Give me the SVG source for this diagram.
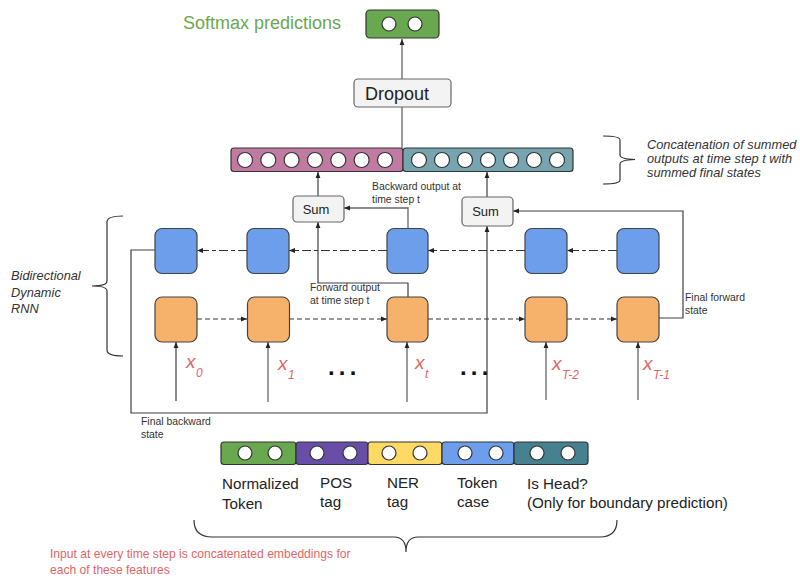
<svg xmlns="http://www.w3.org/2000/svg" width="800" height="580" viewBox="0 0 800 580">
<defs>
<style>
text{font-family:"Liberation Sans",Arial,sans-serif;}
.ln{fill:none;stroke:#404040;stroke-width:1.2;}
.gl{fill:none;stroke:#666;stroke-width:1.3;}
.bd{fill:none;stroke:#333;stroke-width:1.2;stroke-dasharray:9,3,4,3;}
.od{fill:none;stroke:#333;stroke-width:1.2;stroke-dasharray:5,3;}
.blue{fill:#6d9eeb;stroke:#434343;stroke-width:1.2;}
.orange{fill:#f6b26b;stroke:#434343;stroke-width:1.2;}
.box{fill:#f3f3f3;stroke:#666;stroke-width:1.2;}
.c{fill:#fff;stroke:#333;stroke-width:1.2;}
.seg{stroke:#333;stroke-width:1.2;}
.sm{font-size:10.4px;fill:#333;}
.it{font-size:12.8px;fill:#333;font-style:italic;}
.ft{font-size:15.2px;fill:#222;}
.xl{font-size:19px;fill:#e06666;font-style:italic;}
.xs{font-size:12px;fill:#e06666;font-style:italic;}
.br{fill:none;stroke:#333;stroke-width:1.2;}
</style>
<marker id="ah" viewBox="0 0 10 10" refX="10" refY="5" markerWidth="6" markerHeight="6" orient="auto-start-reverse" markerUnits="userSpaceOnUse">
<path d="M0,1 L10,5 L0,9 z" fill="#222"/>
</marker>
</defs>

<!-- title -->
<text x="183" y="29" font-size="18" fill="#6aa84f">Softmax predictions</text>

<g id="connectors">
<line class="gl" x1="402" y1="79" x2="402" y2="39" marker-end="url(#ah)"/>
<line class="gl" x1="402" y1="148" x2="402" y2="107"/>
<line class="ln" x1="318" y1="196" x2="318" y2="172" marker-end="url(#ah)"/>
<line class="ln" x1="487" y1="197" x2="487" y2="172" marker-end="url(#ah)"/>
<!-- backward output at t -->
<polyline class="gl" points="408,228 408,208 344,208" marker-end="url(#ah)"/>
<!-- forward output at t -->
<polyline class="ln" points="408,297 408,283 318,283 318,222" marker-end="url(#ah)"/>
<!-- final forward state -->
<polyline class="ln" points="659,318 683,318 683,211 513,211" marker-end="url(#ah)"/>
<!-- final backward state -->
<polyline class="ln" points="155,250 131,250 131,413 487,413 487,226" marker-end="url(#ah)"/>
<!-- backward chain -->
<line class="bd" x1="247" y1="250.5" x2="197" y2="250.5" marker-end="url(#ah)"/>
<line class="bd" x1="387" y1="250.5" x2="289" y2="250.5" marker-end="url(#ah)"/>
<line class="bd" x1="525" y1="250.5" x2="428" y2="250.5" marker-end="url(#ah)"/>
<line class="bd" x1="617" y1="250.5" x2="567" y2="250.5" marker-end="url(#ah)"/>
<!-- forward chain -->
<line class="od" x1="197" y1="319" x2="247" y2="319" marker-end="url(#ah)"/>
<line class="od" x1="289" y1="319" x2="387" y2="319" marker-end="url(#ah)"/>
<line class="od" x1="428" y1="319" x2="525" y2="319" marker-end="url(#ah)"/>
<line class="od" x1="567" y1="319" x2="617" y2="319" marker-end="url(#ah)"/>
<!-- inputs -->
<line class="ln" x1="176" y1="401" x2="176" y2="342" marker-end="url(#ah)"/>
<line class="gl" x1="268" y1="402" x2="268" y2="342" marker-end="url(#ah)"/>
<line class="gl" x1="407" y1="402" x2="407" y2="342" marker-end="url(#ah)"/>
<line class="gl" x1="546" y1="400" x2="546" y2="342" marker-end="url(#ah)"/>
<line class="gl" x1="638" y1="400" x2="638" y2="342" marker-end="url(#ah)"/>
</g>

<g id="softmax">
<rect x="366" y="10" width="73" height="28" rx="4" fill="#6aa84f" stroke="#333" stroke-width="1.2"/>
<circle class="c" cx="389" cy="24" r="7"/>
<circle class="c" cx="415" cy="24" r="7"/>
</g>

<g id="dropout">
<rect class="box" x="354" y="79" width="97" height="28" rx="4"/>
<text x="397" y="100" font-size="18" fill="#222" text-anchor="middle">Dropout</text>
</g>

<g id="concat">
<rect x="231" y="148" width="172" height="23.5" rx="3" fill="#c27ba0" stroke="#333" stroke-width="1.2"/>
<rect x="403" y="148" width="170" height="23.5" rx="3" fill="#76a5af" stroke="#333" stroke-width="1.2"/>
<circle class="c" cx="245" cy="160" r="7.5"/>
<circle class="c" cx="268.3" cy="160" r="7.5"/>
<circle class="c" cx="291.6" cy="160" r="7.5"/>
<circle class="c" cx="315" cy="160" r="7.5"/>
<circle class="c" cx="338.3" cy="160" r="7.5"/>
<circle class="c" cx="361.6" cy="160" r="7.5"/>
<circle class="c" cx="385" cy="160" r="7.5"/>
<circle class="c" cx="419" cy="160" r="7.5"/>
<circle class="c" cx="442" cy="160" r="7.5"/>
<circle class="c" cx="465" cy="160" r="7.5"/>
<circle class="c" cx="488" cy="160" r="7.5"/>
<circle class="c" cx="511" cy="160" r="7.5"/>
<circle class="c" cx="534" cy="160" r="7.5"/>
<circle class="c" cx="557" cy="160" r="7.5"/>
</g>

<g id="concat-note">
<path class="br" d="M603,136 Q620,136 620,140 L620,155 Q620,159 635,159.5 Q620,160 620,164 L620,180 Q620,184 603,184"/>
<text class="it" x="647" y="149">Concatenation of summed</text>
<text class="it" x="647" y="163">outputs at time step t with</text>
<text class="it" x="647" y="177">summed final states</text>
</g>

<g id="sum1">
<rect class="box" x="293" y="196" width="51" height="26" rx="4"/>
<text x="316" y="213.5" font-size="13" fill="#222" text-anchor="middle">Sum</text>
</g>
<g id="sum2">
<rect class="box" x="462" y="197" width="51" height="29" rx="4"/>
<text x="485.5" y="216" font-size="13" fill="#222" text-anchor="middle">Sum</text>
</g>

<g id="labels-small">
<text class="sm" x="372" y="190">Backward output at</text>
<text class="sm" x="372" y="203">time step t</text>
<text class="sm" x="310" y="291">Forward output</text>
<text class="sm" x="310" y="304">at time step t</text>
<text class="sm" x="685" y="301">Final forward</text>
<text class="sm" x="685" y="314">state</text>
<text class="sm" x="141" y="425">Final backward</text>
<text class="sm" x="141" y="438">state</text>
</g>

<g id="rnn-brace">
<path class="br" d="M123,216 Q107,216 107,222 L107,281 Q107,286 92,286 Q107,286 107,291 L107,350 Q107,356 123,356"/>
<text class="it" x="11" y="280">Bidirectional</text>
<text class="it" x="11" y="297">Dynamic</text>
<text class="it" x="11" y="313">RNN</text>
</g>

<g id="bw0"><rect class="blue" x="155" y="228.5" width="42" height="45" rx="7"/></g>
<g id="bw1"><rect class="blue" x="247" y="228.5" width="42" height="45" rx="7"/></g>
<g id="bwt"><rect class="blue" x="387" y="228.5" width="41" height="45" rx="7"/></g>
<g id="bwT2"><rect class="blue" x="525" y="228.5" width="42" height="45" rx="7"/></g>
<g id="bwT1"><rect class="blue" x="617" y="228.5" width="42" height="45" rx="7"/></g>

<g id="fw0"><rect class="orange" x="155" y="297" width="42" height="45" rx="7"/></g>
<g id="fw1"><rect class="orange" x="247.5" y="297" width="42" height="45" rx="7"/></g>
<g id="fwt"><rect class="orange" x="387" y="297" width="41" height="45" rx="7"/></g>
<g id="fwT2"><rect class="orange" x="525" y="297" width="42" height="45" rx="7"/></g>
<g id="fwT1"><rect class="orange" x="617" y="297" width="42" height="45" rx="7"/></g>

<g id="inputs">
<text class="xl" x="186" y="368">x</text><text class="xs" x="196" y="377">0</text>
<text class="xl" x="278" y="370">x</text><text class="xs" x="288" y="379">1</text>
<text class="xl" x="415" y="369">x</text><text class="xs" x="425" y="378">t</text>
<text class="xl" x="552" y="370">x</text><text class="xs" x="562" y="379">T-2</text>
<text class="xl" x="643" y="370">x</text><text class="xs" x="653" y="379">T-1</text>
<text x="328" y="375" font-size="24" font-weight="bold" fill="#111" letter-spacing="4.2">...</text>
<text x="460" y="375" font-size="24" font-weight="bold" fill="#111" letter-spacing="4.2">...</text>
</g>

<g id="features">
<rect class="seg" x="221" y="442" width="75" height="22.5" rx="3" fill="#6aa84f"/>
<rect class="seg" x="296" y="442" width="72" height="22.5" rx="3" fill="#674ea7"/>
<rect class="seg" x="368" y="442" width="74" height="22.5" rx="3" fill="#ffd966"/>
<rect class="seg" x="442" y="442" width="72" height="22.5" rx="3" fill="#6d9eeb"/>
<rect class="seg" x="514" y="442" width="74" height="22.5" rx="3" fill="#45818e"/>
<circle class="c" cx="245" cy="453" r="7"/>
<circle class="c" cx="275" cy="453" r="7"/>
<circle class="c" cx="317" cy="453" r="7"/>
<circle class="c" cx="350" cy="453" r="7"/>
<circle class="c" cx="389" cy="453" r="7"/>
<circle class="c" cx="420" cy="453" r="7"/>
<circle class="c" cx="465" cy="453" r="7"/>
<circle class="c" cx="496" cy="453" r="7"/>
<circle class="c" cx="537" cy="453" r="7"/>
<circle class="c" cx="568" cy="453" r="7"/>
<text class="ft" x="222" y="489">Normalized</text>
<text class="ft" x="222" y="509">Token</text>
<text class="ft" x="320" y="488">POS</text>
<text class="ft" x="320" y="507">tag</text>
<text class="ft" x="387" y="488">NER</text>
<text class="ft" x="387" y="507">tag</text>
<text class="ft" x="457" y="488">Token</text>
<text class="ft" x="457" y="507">case</text>
<text class="ft" x="527" y="489">Is Head?</text>
<text class="ft" x="527" y="508">(Only for boundary prediction)</text>
</g>

<g id="input-brace">
<path class="br" d="M194,520 Q194,537 212,537 L394,537 Q406,537 406,552 Q406,537 418,537 L600,537 Q617,537 617,520"/>
<text x="50" y="558" font-size="12.1" fill="#e06666">Input at every time step is concatenated embeddings for</text>
<text x="50" y="574" font-size="12.1" fill="#e06666">each of these features</text>
</g>
</svg>
